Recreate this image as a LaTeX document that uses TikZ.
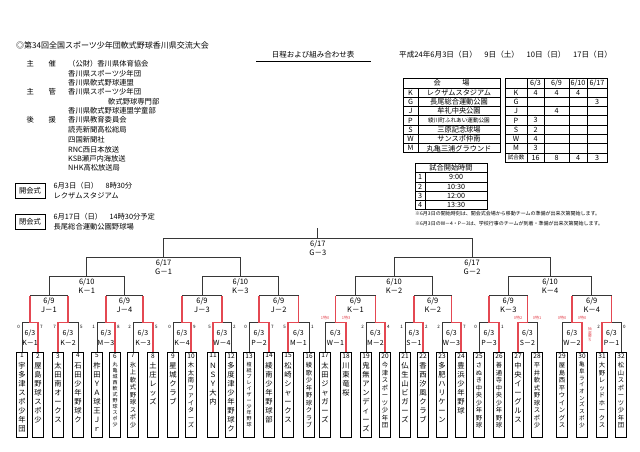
\documentclass[tikz,border=0pt]{standalone}
\usepackage{fontspec}
\setmainfont{Noto Sans CJK JP}
\usetikzlibrary{calc,positioning}
\definecolor{WinRed}{RGB}{228,72,82}
\definecolor{BracketGray}{RGB}{55,55,55}

\makeatletter
\newcommand\tatename[2]{\vbox{\hbox to 12pt{\hss\fontsize{6.5}{7}\selectfont#1\hss}\vskip2pt
  \expandafter\@tfor\expandafter\tatech\expandafter:\expandafter=#2\do{\hbox to 12pt{\hss\tatech\hss}}}}
\makeatother

\tikzset{
  hdr/.style={anchor=west,inner sep=0pt,font=\fontsize{7.3}{9.4}\selectfont},
  bline/.style={draw=BracketGray,line width=0.9pt},
  winline/.style={draw=WinRed,line width=1.1pt},
  teambox/.style={draw=black,line width=0.8pt,minimum width=11pt,minimum height=85pt,inner sep=0pt},
  teamname/.style={anchor=north,inner sep=0pt,yshift=-1.5pt,font=\fontsize{7.3}{8.9}\selectfont},
  midname/.style={teamname,font=\fontsize{6.3}{7.5}\selectfont},
  smallname/.style={teamname,font=\fontsize{5.6}{6.7}\selectfont},
  tinyname/.style={teamname,font=\fontsize{5}{6}\selectfont},
  rlbl/.style={anchor=north,align=center,inner sep=0pt,yshift=-7pt,font=\fontsize{7}{10}\selectfont},
  ulbl/.style={anchor=north,align=center,inner sep=0pt,yshift=-1.5pt,font=\fontsize{7.5}{9.5}\selectfont},
  score/.style={inner sep=0pt,font=\fontsize{4.5}{5}\selectfont},
  redmark/.style={inner sep=0pt,text=WinRed,font=\fontsize{4}{4.5}\selectfont},
  cell/.style={inner sep=0pt,font=\fontsize{7.2}{8}\selectfont},
  gridline/.style={line width=0.5pt},
  frameline/.style={line width=0.9pt}
}

\begin{document}
\begin{tikzpicture}[x=1pt,y=-1pt]
\useasboundingbox (0,0) rectangle (640,452);

% heading
\node[hdr,font=\fontsize{8}{9}\selectfont] (title) at (16,45) {◎第34回全国スポーツ少年団軟式野球香川県交流大会};
\node[font=\fontsize{7.5}{8}\selectfont,inner sep=0pt] (plan) at (313,55) {日程および組み合わせ表};
\draw[line width=1.2pt] (256,61.5) -- (371,61.5);
\node[hdr,font=\fontsize{7.6}{8}\selectfont] (dates) at (399,55) {平成24年6月3日（日）　9日（土）　10日（日）　17日（日）};

% organisers
\node[hdr] (k1) at (26.5,64) {主};
\node[hdr] (k2) at (48.5,64) {催};
\node[hdr] (k3) at (26.5,92) {主};
\node[hdr] (k4) at (48.5,92) {管};
\node[hdr] (k5) at (26.5,120) {後};
\node[hdr] (k6) at (48.5,120) {援};
\node[hdr] (o1) at (68,64) {（公財）香川県体育協会};
\node[hdr] (o2) at (68,73.5) {香川県スポーツ少年団};
\node[hdr] (o3) at (68,83) {香川県軟式野球連盟};
\node[hdr] (o4) at (68,92) {香川県スポーツ少年団};
\node[hdr] (o5) at (108,101.5) {軟式野球専門部};
\node[hdr] (o6) at (68,111) {香川県軟式野球連盟学童部};
\node[hdr] (o7) at (68,120) {香川県教育委員会};
\node[hdr] (o8) at (68,130) {読売新聞高松総局};
\node[hdr] (o9) at (68,140) {四国新聞社};
\node[hdr] (o10) at (68,149.5) {RNC西日本放送};
\node[hdr] (o11) at (68,159) {KSB瀬戸内海放送};
\node[hdr] (o12) at (68,168) {NHK高松放送局};

% ceremonies
\node[draw,line width=0.8pt,minimum width=30pt,minimum height=15pt,inner sep=0pt,font=\fontsize{7.3}{8}\selectfont] (open) at (30,190.5) {開会式};
\node[hdr,align=left,right=8pt of open] (opentxt) {6月3日（日）　8時30分\\レクザムスタジアム};
\node[draw,line width=0.8pt,minimum width=30pt,minimum height=15pt,inner sep=0pt,font=\fontsize{7.3}{8}\selectfont] (close) at (30,221.5) {閉会式};
\node[hdr,align=left,right=8pt of close] (closetxt) {6月17日（日）　14時30分予定\\長尾総合運動公園野球場};

% venue table
\draw[frameline] (403,78.5) rectangle (500,152.9);
\foreach \k in {1,...,7} \draw[gridline] (403,{78.5+9.3*\k}) -- (500,{78.5+9.3*\k});
\draw[gridline] (418,87.8) -- (418,152.9);
\node[cell] (vh) at (451.5,83.2) {会　　　場};
\foreach \c/\v [count=\r] in {K/レクザムスタジアム,G/長尾総合運動公園,J/牟礼中央公園,P/{\fontsize{5.6}{6}\selectfont 綾川町ふれあい運動公園},S/三原記念球場,W/サンスポ仲南,M/丸亀三浦グラウンド}{
  \node[cell] (vc\r) at (410.5,{83.2+9.3*\r}) {\c};
  \node[cell] (vn\r) at (459,{83.2+9.3*\r}) {\v};
}

% games per day
\draw[frameline] (505,78.5) rectangle (607,162.2);
\foreach \k in {1,...,8} \draw[gridline] (505,{78.5+9.3*\k}) -- (607,{78.5+9.3*\k});
\foreach \x in {527,544,569,587} \draw[gridline] (\x,78.5) -- (\x,162.2);
\node[cell] (gd1) at (535.5,83.2) {6/3};
\node[cell] (gd2) at (556.5,83.2) {6/9};
\node[cell] (gd3) at (578,83.2) {6/10};
\node[cell] (gd4) at (597,83.2) {6/17};
\foreach \c/\a/\b/\e/\f [count=\r] in {K/4/4/4/,G////3,J//4//,P/3///,S/2///,W/4///,M/3///,{\fontsize{5.5}{6}\selectfont 試合数}/16/8/4/3}{
  \node[cell] (gc\r) at (516,{83.2+9.3*\r}) {\c};
  \node[cell] (ga\r) at (535.5,{83.2+9.3*\r}) {\a};
  \node[cell] (gb\r) at (556.5,{83.2+9.3*\r}) {\b};
  \node[cell] (ge\r) at (578,{83.2+9.3*\r}) {\e};
  \node[cell] (gf\r) at (597,{83.2+9.3*\r}) {\f};
}

% start times
\draw[frameline] (415,163.5) rectangle (487,209.5);
\foreach \k in {1,...,4} \draw[gridline] (415,{163.5+9.2*\k}) -- (487,{163.5+9.2*\k});
\draw[gridline] (425,172.7) -- (425,209.5);
\node[cell] (st0) at (451,168.1) {試合開始時間};
\foreach \t [count=\r] in {9:00,10:30,12:00,13:30}{
  \node[cell] (sn\r) at (420,{168.1+9.2*\r}) {\r};
  \node[cell] (st\r) at (456,{168.1+9.2*\r}) {\t};
}
\node[hdr,font=\fontsize{5}{6}\selectfont] (note1) at (415,214) {※6月3日の開始時刻は、開会式会場から移動チームの準備が出来次第開始します。};
\node[hdr,font=\fontsize{5}{6}\selectfont] (note2) at (415,224) {※6月3日のW－4・P－3は、学校行事のチームが到着・準備が出来次第開始します。};

% teams
\foreach \n/\x/\st/\txt in {
  1/22/teamname/宇多津スポ少年団, 2/38/teamname/屋島野球スポ少,
  3/58/teamname/太田南オークス, 4/78/teamname/石田少年野球ク,
  5/97/teamname/柞田ＹＡ球王Ｊｒ, 6/115/tinyname/丸亀城西軟式野球スポ少,
  7/133/midname/氷上軟式野球スポ少, 8/153/teamname/土庄レッズ,
  9/173/teamname/星城クラブ, 10/191/midname/木太南ファイターズ,
  11/213/teamname/ＮＳＹ大内, 12/231/teamname/多度津少年野球ク,
  13/249/tinyname/檀紙ブレイザー少年野球, 14/269/teamname/綾南少年野球部,
  15/288/teamname/松崎シャークス, 16/309/midname/綾歌少年野球クラブ,
  17/325/teamname/太田ジャガーズ, 18/346/teamname/川東竜桜,
  19/366/teamname/鬼無アンディーズ, 20/385/midname/今津スポーツ少年団,
  21/405/teamname/仏生山ビガーズ, 22/423/teamname/香西汐風クラブ,
  23/442/teamname/多肥ハリケーン, 24/461/teamname/豊浜少年野球,
  25/479/midname/さぬき中央少年野球, 26/499/midname/善通寺中央少年野球,
  27/518/teamname/中央イーグルス, 28/537/midname/平井軟式野球スポ少,
  29/562/midname/屋島西平ウイングス, 30/582/smallname/亀阜ライオンズスポ少,
  31/602/midname/大野レッドホークス, 32/621/midname/松山スポーツ少年団}{
  \node[teambox] (t\n) at (\x,394.5) {};
  \node[\st] (n\n) at (t\n.north) {\tatename{\n}{\txt}};
}

% junctions
\foreach \i in {1,...,16}{
  \pgfmathtruncatemacro\lft{2*\i-1}
  \pgfmathtruncatemacro\rgt{2*\i}
  \coordinate (a\i) at ($(t\lft.north)!.5!(t\rgt.north)+(0,-29)$);
}
\foreach \i in {1,...,8}{
  \pgfmathtruncatemacro\lft{2*\i-1}
  \pgfmathtruncatemacro\rgt{2*\i}
  \coordinate (b\i) at ($(a\lft)!.5!(a\rgt)+(0,-27)$);
}
\foreach \i in {1,...,4}{
  \pgfmathtruncatemacro\lft{2*\i-1}
  \pgfmathtruncatemacro\rgt{2*\i}
  \coordinate (c\i) at ($(b\lft)!.5!(b\rgt)+(0,-19)$);
}
\coordinate (d1) at ($(c1)!.5!(c2)+(0,-19)$);
\coordinate (d2) at ($(c3)!.5!(c4)+(0,-19)$);
\coordinate (e1) at ($(d1)!.5!(d2)+(0,-19)$);

% bracket lines
\foreach \i in {1,...,16}{
  \pgfmathtruncatemacro\lft{2*\i-1}
  \pgfmathtruncatemacro\rgt{2*\i}
  \draw[bline] (t\lft.north) |- (a\i) -| (t\rgt.north);
}
\foreach \w/\i in {2/1,3/2,6/3,8/4,10/5,11/6,14/7,15/8,18/9,20/10,22/11,24/12,26/13,27/14,30/15,31/16}
  \draw[winline] (t\w.north) |- (a\i) -- ++(0,-27);
\foreach \i in {1,...,8}{
  \pgfmathtruncatemacro\lft{2*\i-1}
  \pgfmathtruncatemacro\rgt{2*\i}
  \draw[bline] (a\lft |- b\i) -- (a\rgt |- b\i);
}
\foreach \i in {1,...,4}{
  \pgfmathtruncatemacro\lft{2*\i-1}
  \pgfmathtruncatemacro\rgt{2*\i}
  \draw[bline] (b\lft) |- (c\i) -| (b\rgt);
}
\draw[bline] (c1) |- (d1) -| (c2);
\draw[bline] (c3) |- (d2) -| (c4);
\draw[bline] (d1) |- (e1) -| (d2);
\draw[bline] (e1) -- ++(0,-11);

% match labels
\foreach \i/\code in {1/K－1,2/K－2,3/M－3,4/K－3,5/K－4,6/W－4,7/P－2,8/M－1,9/W－1,10/M－2,11/S－1,12/W－3,13/P－3,14/S－2,15/W－2,16/P－1}
  \node[rlbl] (m\i) at (a\i) {6/3\\\code};
\foreach \i/\code in {1/J－1,2/J－4,3/J－3,4/J－2,5/K－1,6/K－2,7/K－3,8/K－4}
  \node[ulbl] (q\i) at (b\i) {6/9\\\code};
\foreach \i/\code in {1/K－1,2/K－3,3/K－2,4/K－4}
  \node[ulbl] (s\i) at (c\i) {6/10\\\code};
\node[ulbl] (f1) at (d1) {6/17\\G－1};
\node[ulbl] (f2) at (d2) {6/17\\G－2};
\node[ulbl] (fin) at (e1) {6/17\\G－3};

% scores
\foreach \i/\sl/\sr in {1/0/7,2/7/5,3/1/8,4/2/5,5/0/9,6/5/2,7/0/7,8/5/1,10/2/4,11/1/2,12/2/7,13/0/1,16/2/0}{
  \pgfmathtruncatemacro\lft{2*\i-1}
  \pgfmathtruncatemacro\rgt{2*\i}
  \node[score,anchor=east] (sl\i) at ($(t\lft.north)+(-2,-25)$) {\sl};
  \node[score,anchor=west] (sr\i) at ($(t\rgt.north)+(2,-25)$) {\sr};
}
\foreach \i/\sl/\sr in {9/1特0/1特3,14/0特2/0特1,15/0特0/0特0}{
  \pgfmathtruncatemacro\lft{2*\i-1}
  \pgfmathtruncatemacro\rgt{2*\i}
  \node[redmark] (xl\i) at ($(t\lft.north)+(0,-34)$) {\sl};
  \node[redmark] (xr\i) at ($(t\rgt.north)+(0,-34)$) {\sr};
}
\node[redmark,align=center,font=\fontsize{3.6}{3.8}\selectfont] (lot) at ($(t30.north)+(8,-17)$) {抽\\選\\勝\\ち};
\end{tikzpicture}
\end{document}
